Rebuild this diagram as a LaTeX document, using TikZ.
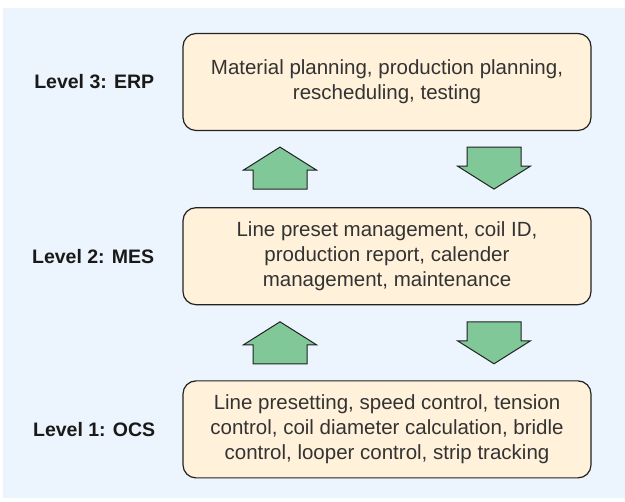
\documentclass[tikz,border=0pt]{standalone}
\usepackage{fontspec}
\setmainfont{Liberation Sans}
\usetikzlibrary{positioning,calc}

\definecolor{panelblue}{RGB}{236,244,253}
\definecolor{boxcream}{RGB}{255,241,218}
\definecolor{arrowgreen}{RGB}{128,200,152}
\definecolor{edgegrey}{RGB}{34,34,34}

\begin{document}
\begin{tikzpicture}[
  x=1pt, y=1pt,
  levelbox/.style={draw=edgegrey, line width=1.2pt, rounded corners=13pt, fill=boxcream, minimum width=408pt, minimum height=97pt, align=center, text=black!80, inner sep=0pt, font=\fontsize{20.5}{24.8}\selectfont},
  tag/.style={inner sep=0pt, text=black!90, font=\fontsize{19.5}{23}\selectfont\bfseries},
  blk/.style={draw=edgegrey, line width=1pt, fill=arrowgreen, line join=miter},
  upblk/.pic={\draw[blk] (0,21) -- (36.5,-2) -- (27,-2) -- (27,-21) -- (-27,-21) -- (-27,-2) -- (-36.5,-2) -- cycle;},
  downblk/.pic={\draw[blk] (0,-21) -- (36.5,2) -- (27,2) -- (27,21) -- (-27,21) -- (-27,2) -- (-36.5,2) -- cycle;},
  node distance=76pt
]
\useasboundingbox (0,0) rectangle (625,502);
\fill[panelblue] (3,4) rectangle (625,494);

% the three levels
\node[levelbox] (erp) at (387,420) {Material planning, production planning,\\rescheduling, testing};
\node[levelbox, below=of erp] (mes) {Line preset management, coil ID,\\production report, calender\\management, maintenance};
\node[levelbox, below=75pt of mes] (ocs) {Line presetting, speed control, tension\\control, coil diameter calculation, bridle\\control, looper control, strip tracking};

\node[tag, left=28pt of erp] (erptag) {Level 3: ERP};
\node[tag, left=28pt of mes] (mestag) {Level 2: MES};
\node[tag, left=27pt of ocs] (ocstag) {Level 1: OCS};

% data flow between the levels
\coordinate (gap1) at ($(erp.south)!0.5!(mes.north)+(0,1)$);
\coordinate (gap2) at ($(mes.south)!0.5!(ocs.north)$);
\pic at ($(gap1)+(-107,0)$) {upblk};
\pic at ($(gap1)+(107,0)$) {downblk};
\pic at ($(gap2)+(-107,0)$) {upblk};
\pic at ($(gap2)+(107,0)$) {downblk};
\end{tikzpicture}
\end{document}
